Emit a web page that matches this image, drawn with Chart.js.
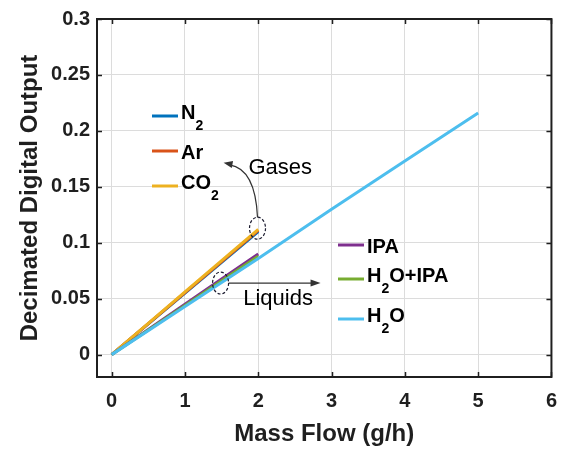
<!DOCTYPE html>
<html>
<head>
<meta charset="utf-8">
<script src="https://cdn.jsdelivr.net/npm/chart.js@4/dist/chart.umd.min.js"></script>
<style>
html, body { margin: 0; padding: 0; background: #fff; }
</style>
</head>
<body>
<canvas id="chart" width="569" height="452"></canvas>
<script>
// Eixos
const xTicks = [0, 1, 2, 3, 4, 5, 6];
const yTicks = [0, 0.05, 0.1, 0.15, 0.2, 0.25, 0.3];

// Gases (0 - 2 g/h)
const gasFlow = [0, 0.5, 1, 1.5, 2];
const n2Out = [0, 0.0275, 0.055, 0.0825, 0.110];
const arOut = [0, 0.0277, 0.0555, 0.0832, 0.111];
const co2Out = [0, 0.028, 0.056, 0.084, 0.112];

// Liquidos
const liquidFlow = [0, 0.5, 1, 1.5, 2];
const ipaOut = [0, 0.0225, 0.045, 0.0675, 0.090];
const mixOut = [0, 0.022, 0.044, 0.066, 0.088];
const waterFlow = [0, 1, 2, 3, 4, 5];
const waterOut = [0, 0.043, 0.086, 0.130, 0.173, 0.216];

const FONT = "'Liberation Sans', Arial, sans-serif";
const INK = '#1f1f1f';

function pts(xs, ys) {
    return xs.map((x, i) => ({ x: x, y: ys[i] }));
}

const series = [
    { label: 'N_2', color: '#0072BD', data: pts(gasFlow, n2Out), order: 6 },
    { label: 'Ar', color: '#D95319', data: pts(gasFlow, arOut), order: 5 },
    { label: 'CO_2', color: '#EDB120', data: pts(gasFlow, co2Out), order: 4 },
    { label: 'IPA', color: '#7E2F8E', data: pts(liquidFlow, ipaOut), order: 3 },
    { label: 'H_2O+IPA', color: '#77AC30', data: pts(liquidFlow, mixOut), order: 2 },
    { label: 'H_2O', color: '#4DBEEE', data: pts(waterFlow, waterOut), order: 1 }
];

// texto com subscrito simples: "H_2O" -> H, 2 (sub), O
function drawSubText(ctx, text, x, capCenter) {
    const parts = text.split('_');
    const base = capCenter + 7.2;
    let cx = x;
    ctx.fillStyle = '#000';
    ctx.textBaseline = 'alphabetic';
    ctx.textAlign = 'left';
    parts.forEach((p, i) => {
        if (i === 0) {
            ctx.font = 'bold 20px ' + FONT;
            ctx.fillText(p, cx, base);
            cx += ctx.measureText(p).width;
        } else {
            ctx.font = 'bold 14px ' + FONT;
            ctx.fillText(p[0], cx, base + 11);
            cx += ctx.measureText(p[0]).width;
            const rest = p.slice(1);
            ctx.font = 'bold 20px ' + FONT;
            ctx.fillText(rest, cx, base);
            cx += ctx.measureText(rest).width;
        }
    });
}

function drawLegendGroup(ctx, items, x0, ys) {
    items.forEach((s, i) => {
        const y = ys[i];
        ctx.strokeStyle = s.color;
        ctx.lineWidth = 3;
        ctx.beginPath();
        ctx.moveTo(x0, y);
        ctx.lineTo(x0 + 26, y);
        ctx.stroke();
        const hasSub = s.label.indexOf('_') >= 0;
        drawSubText(ctx, s.label, x0 + 29, hasSub ? y - 4.5 : y + 1);
    });
}

function arrowHead(ctx, x, y, ang, len, wid) {
    ctx.beginPath();
    ctx.moveTo(x, y);
    ctx.lineTo(x - len * Math.cos(ang) + wid * Math.sin(ang), y - len * Math.sin(ang) - wid * Math.cos(ang));
    ctx.lineTo(x - len * Math.cos(ang) - wid * Math.sin(ang), y - len * Math.sin(ang) + wid * Math.cos(ang));
    ctx.closePath();
    ctx.fill();
}

const frame = {
    id: 'frame',
    afterDraw(chart) {
        const ctx = chart.ctx;
        const a = chart.chartArea;
        const xs = chart.scales.x, ys = chart.scales.y;
        ctx.save();

        // caixa e ticks internos
        ctx.strokeStyle = INK;
        ctx.lineWidth = 2;
        ctx.strokeRect(a.left, a.top, a.right - a.left, a.bottom - a.top);
        ctx.lineWidth = 1.5;
        ctx.beginPath();
        xTicks.forEach(v => {
            const px = Math.round(xs.getPixelForValue(v)) + 0.5;
            ctx.moveTo(px, a.bottom); ctx.lineTo(px, a.bottom - 5);
            ctx.moveTo(px, a.top); ctx.lineTo(px, a.top + 5);
        });
        yTicks.forEach(v => {
            const py = Math.round(ys.getPixelForValue(v)) + 0.5;
            ctx.moveTo(a.left, py); ctx.lineTo(a.left + 5, py);
            ctx.moveTo(a.right, py); ctx.lineTo(a.right - 5, py);
        });
        ctx.stroke();

        // legendas
        drawLegendGroup(ctx, series.slice(0, 3), 152, [116, 151, 186]);
        drawLegendGroup(ctx, series.slice(3), 338, [245, 279, 319]);

        // anotacoes
        const X = v => xs.getPixelForValue(v);
        const Y = v => ys.getPixelForValue(v);
        ctx.strokeStyle = '#1a1a2e';
        ctx.fillStyle = '#1a1a2e';
        ctx.lineWidth = 1.2;
        ctx.setLineDash([3, 2]);
        ctx.beginPath();
        ctx.ellipse(X(1.99), Y(0.113), 8, 11, 0, 0, Math.PI * 2);
        ctx.stroke();
        ctx.beginPath();
        ctx.ellipse(X(1.486), Y(0.064), 8, 11, 0, 0, Math.PI * 2);
        ctx.stroke();
        ctx.setLineDash([]);

        // seta gases (curva)
        const sx = X(1.99), sy = Y(0.1226);
        const cx = X(1.96), cy = Y(0.166);
        const ex = X(1.527), ey = Y(0.1714);
        ctx.strokeStyle = '#333';
        ctx.fillStyle = '#333';
        ctx.lineWidth = 1.2;
        ctx.beginPath();
        ctx.moveTo(sx, sy);
        ctx.quadraticCurveTo(cx, cy, ex + 6, ey + 2);
        ctx.stroke();
        arrowHead(ctx, ex, ey, Math.atan2(ey - cy, ex - cx), 9, 3.5);

        // seta liquidos
        const lx0 = X(1.595), lx1 = X(2.85), ly = Y(0.064);
        ctx.beginPath();
        ctx.moveTo(lx0, ly);
        ctx.lineTo(lx1 - 6, ly);
        ctx.stroke();
        arrowHead(ctx, lx1, ly, 0, 10, 3.5);

        ctx.fillStyle = '#000';
        ctx.font = '22px ' + FONT;
        ctx.textAlign = 'center';
        ctx.textBaseline = 'middle';
        ctx.fillText('Gases', X(2.30), Y(0.167));
        ctx.fillText('Liquids', X(2.27), Y(0.0497));

        ctx.restore();
    }
};

const ctx = document.getElementById('chart').getContext('2d');

const chart = new Chart(ctx, {
    type: 'line',
    data: {
        datasets: series.map(s => ({
            label: s.label,
            data: s.data,
            borderColor: s.color,
            backgroundColor: s.color,
            borderWidth: 3,
            pointRadius: 0,
            fill: false,
            tension: 0,
            order: s.order
        }))
    },
    options: {
        responsive: false,
        animation: false,
        layout: { padding: { top: 16, right: 12, left: 0, bottom: 0 } },
        plugins: {
            legend: { display: false },
            tooltip: { enabled: false }
        },
        scales: {
            x: {
                type: 'linear',
                min: -0.2,
                max: 6,
                afterBuildTicks: s => { s.ticks = xTicks.map(v => ({ value: v })); },
                afterFit: s => { s.height = 75; },
                grid: { color: '#dcdcdc', lineWidth: 1, drawTicks: false },
                border: { display: false },
                ticks: {
                    padding: 12,
                    color: INK,
                    font: { family: FONT, size: 20, weight: 'bold' },
                    callback: v => String(v)
                },
                title: {
                    display: true,
                    text: 'Mass Flow (g/h)',
                    color: INK,
                    font: { family: FONT, size: 24, weight: 'bold' },
                    padding: { top: 0, bottom: 3 }
                }
            },
            y: {
                type: 'linear',
                min: -0.02,
                max: 0.3,
                afterBuildTicks: s => { s.ticks = yTicks.map(v => ({ value: v })); },
                afterFit: s => { s.width = 97; },
                grid: { color: '#dcdcdc', lineWidth: 1, drawTicks: false },
                border: { display: false },
                ticks: {
                    padding: 7,
                    color: INK,
                    font: { family: FONT, size: 20, weight: 'bold' },
                    callback: v => String(+v.toFixed(2))
                },
                title: {
                    display: true,
                    text: 'Decimated Digital Output',
                    color: INK,
                    font: { family: FONT, size: 24, weight: 'bold' },
                    padding: { top: 16, bottom: 0 }
                }
            }
        }
    },
    plugins: [frame]
});
</script>
</body>
</html>
